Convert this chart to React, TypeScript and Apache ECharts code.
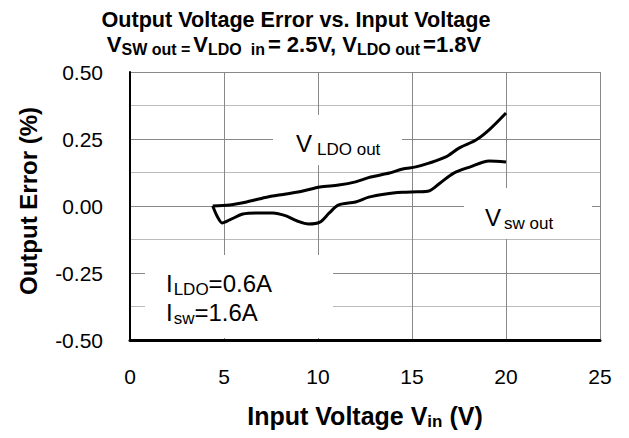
import React, { useEffect, useRef } from 'react';
import * as echarts from 'echarts';

// Input voltage (V) and output error (%) for V_LDO out
const ldoVin = [4.4, 5.3, 6.2, 7.2, 8.3, 9.2, 10.1, 11.1, 12.0, 12.8, 13.8, 14.5, 15.2, 15.9, 16.8, 17.5, 18.4, 19.1, 20.0];
const ldoErr = [0.0, 0.004, 0.015, 0.032, 0.045, 0.056, 0.071, 0.078, 0.09, 0.108, 0.123, 0.138, 0.146, 0.16, 0.183, 0.216, 0.246, 0.284, 0.347];

// Input voltage (V) and output error (%) for V_sw out
const swVin = [4.4, 4.65, 4.9, 5.3, 6.0, 6.7, 7.6, 8.3, 8.9, 9.5, 10.1, 10.6, 11.1, 12.0, 12.7, 13.6, 14.5, 15.3, 15.9, 16.5, 17.2, 18.1, 19.1, 20.0];
const swErr = [0.0, -0.04, -0.063, -0.052, -0.03, -0.026, -0.026, -0.037, -0.056, -0.067, -0.06, -0.026, 0.004, 0.015, 0.033, 0.045, 0.051, 0.053, 0.056, 0.086, 0.122, 0.146, 0.168, 0.164];

const xRange = [0, 25];
const xStep = 5;
const yRange = [-0.5, 0.5];
const yStep = 0.25;

const FONT = 'Liberation Sans, Arial, Helvetica, sans-serif';

export default function App() {
  const ref = useRef<HTMLDivElement>(null);
  useEffect(() => {
    const chart = echarts.init(ref.current!, null, { renderer: 'svg' });
    const pair = (xs: number[], ys: number[]) => xs.map((x, i) => [x, ys[i]]);
    const subTitle = { fontSize: 16, fontWeight: 'bold', fontFamily: FONT, lineHeight: 16, padding: [10, 3, 0, 0], fill: '#000' };
    const mainTitle = { fontSize: 22, fontWeight: 'bold', fontFamily: FONT, lineHeight: 26, fill: '#000' };
    const annMain = { fontSize: 24, fontFamily: FONT, lineHeight: 29, fill: '#000' };
    const annSub = { fontSize: 17, fontFamily: FONT, lineHeight: 17, padding: [12, 0, 0, 1], fill: '#000' };
    const annSubGap = { ...annSub, padding: [12, 0, 0, 5] };
    chart.setOption({
      animation: false,
      backgroundColor: '#fff',
      textStyle: { fontFamily: FONT },
      grid: { left: 130, right: 29, top: 72, bottom: 98, containLabel: false },
      xAxis: {
        type: 'value',
        min: xRange[0],
        max: xRange[1],
        interval: xStep,
        name: 'Input Voltage V{s|in} (V)',
        nameLocation: 'middle',
        nameGap: 61,
        nameTextStyle: {
          fontSize: 25, fontWeight: 'bold', color: '#000', fontFamily: FONT, lineHeight: 29,
          rich: { s: { fontSize: 17, fontWeight: 'bold', color: '#000', fontFamily: FONT, lineHeight: 17, padding: [11, 0, 0, 0] } },
        },
        axisLine: { onZero: false, lineStyle: { color: '#000', width: 3 } },
        axisTick: { show: false },
        axisLabel: { fontSize: 21, color: '#000', margin: 26, fontFamily: FONT },
        splitLine: { show: true, lineStyle: { color: '#888', width: 1 } },
      },
      yAxis: {
        type: 'value',
        min: yRange[0],
        max: yRange[1],
        interval: yStep,
        name: 'Output Error (%)',
        nameLocation: 'middle',
        nameGap: 90,
        nameTextStyle: { fontSize: 24, fontWeight: 'bold', color: '#000', fontFamily: FONT, padding: [0, 0, 0, 10] },
        axisLine: { onZero: false, lineStyle: { color: '#000', width: 2 } },
        axisTick: { show: false },
        minorTick: { show: false, splitNumber: 2 },
        minorSplitLine: { show: true, lineStyle: { color: '#bbb', width: 1 } },
        axisLabel: { fontSize: 21, color: '#000', margin: 27, fontFamily: FONT, formatter: (v: number) => v.toFixed(2) },
        splitLine: { show: true, lineStyle: { color: '#888', width: 1 } },
      },
      series: [
        {
          name: 'V LDO out',
          type: 'line',
          data: pair(ldoVin, ldoErr),
          smooth: 0.3,
          showSymbol: false,
          symbol: 'none',
          lineStyle: { color: '#000', width: 3 },
          z: 3,
        },
        {
          name: 'V sw out',
          type: 'line',
          data: pair(swVin, swErr),
          smooth: 0.3,
          showSymbol: false,
          symbol: 'none',
          lineStyle: { color: '#000', width: 3 },
          z: 3,
        },
      ],
      graphic: [
        {
          type: 'text', x: 296, y: 19.5, z: 10,
          style: { text: 'Output Voltage Error vs. Input Voltage', fontSize: 21.6, fontWeight: 'bold', fontFamily: FONT, fill: '#000', align: 'center', verticalAlign: 'middle' },
        },
        {
          type: 'text', x: 294, y: 44.6, z: 10,
          style: {
            text: '{m|V}{s|SW out =}{m|V}{s|LDO  in}{m|= 2.5V, V}{s|LDO out}{m|=1.8V}',
            align: 'center', verticalAlign: 'middle', fill: '#000', fontFamily: FONT,
            rich: { m: mainTitle, s: subTitle },
          },
        },
        { type: 'rect', z: 5, shape: { x: 273, y: 115, width: 129, height: 50 }, style: { fill: '#fff' } },
        { type: 'rect', z: 5, shape: { x: 464, y: 188, width: 128, height: 51 }, style: { fill: '#fff' } },
        { type: 'rect', z: 5, shape: { x: 145, y: 255, width: 188, height: 83 }, style: { fill: '#fff' } },
        {
          type: 'text', x: 296, y: 143.7, z: 10,
          style: { text: '{m|V}{g|LDO out}', align: 'left', verticalAlign: 'middle', fill: '#000', fontFamily: FONT, rich: { m: annMain, g: annSubGap } },
        },
        {
          type: 'text', x: 485, y: 217, z: 10,
          style: { text: '{m|V}{g|sw out}', align: 'left', verticalAlign: 'middle', fill: '#000', fontFamily: FONT, rich: { m: annMain, g: { ...annSub, padding: [12, 0, 0, 3] } } },
        },
        {
          type: 'text', x: 166, y: 297.5, z: 10,
          style: { text: '{m|I}{s|LDO}{m|=0.6A}\n{m|I}{s|sw}{m|=1.6A}', align: 'left', verticalAlign: 'middle', fill: '#000', fontFamily: FONT, rich: { m: annMain, s: annSub } },
        },
      ],
    });
    return () => chart.dispose();
  }, []);
  return <div ref={ref} style={{ position: 'fixed', left: 0, top: 0, width: 629, height: 438, background: '#fff' }} />;
}
